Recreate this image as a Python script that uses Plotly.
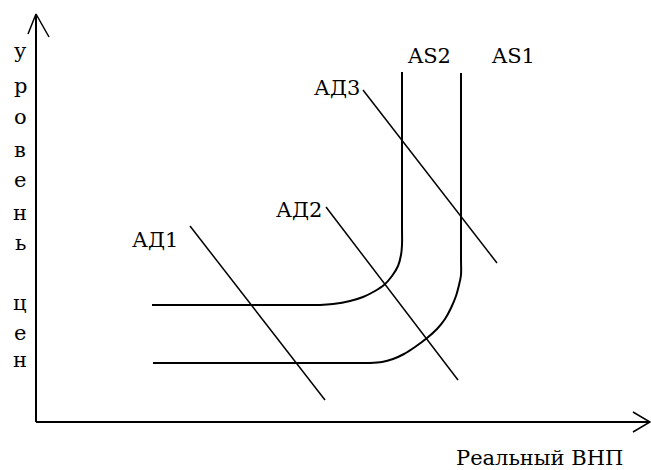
#!/usr/bin/env python3
"""
plot.py - схема AD/AS (совокупный спрос и предложение) в out.html
"""

import plotly.graph_objects as go

# Система координат = пиксели картинки (0..651 x 0..470, y вниз)
WIDTH, HEIGHT = 651, 470

# Оси
Y_AXIS_X = [36, 36]
Y_AXIS_Y = [422, 14]
Y_ARROW_X = [28, 36, 49]
Y_ARROW_Y = [34, 14, 37]
X_AXIS_X = [36, 650]
X_AXIS_Y = [422, 422]
X_ARROW_X = [633, 650, 633]
X_ARROW_Y = [412, 422, 432]

# Кривые предложения
AS2_X = [152, 300, 320, 333, 350, 363, 375, 384, 392, 398, 401, 402, 402, 402]
AS2_Y = [305, 305, 305, 304, 301, 297, 291, 285, 276, 266, 255, 245, 225, 72]
AS1_X = [153, 350, 370, 382, 393, 404, 415, 427, 437, 445, 451, 456, 459, 461, 461, 461]
AS1_Y = [363, 363, 363, 362, 359, 354, 347, 338, 329, 319, 308, 296, 285, 275, 258, 73]

# Кривые спроса (прямые)
AD1_X = [190, 325]
AD1_Y = [226, 400]
AD2_X = [326, 458]
AD2_Y = [207, 380]
AD3_X = [363, 497]
AD3_Y = [90, 263]

# Подписи
CURVE_LABELS = ["АД1", "АД2", "АД3", "AS2", "AS1"]
LABEL_X = [155, 299, 337, 429, 513]
LABEL_Y = [240, 210, 88, 56, 56]
X_TITLE = "Реальный ВНП"
Y_TITLE_LETTERS = ["у", "р", "о", "в", "е", "н", "ь", "", "ц", "е", "н"]
Y_TITLE_POS = [53, 88, 119, 152, 182, 215, 245, 275, 305, 335, 362]

FONT = "DejaVu Serif"
INK = "#000000"


def add_line(fig, xs, ys, width=2.0, shape="linear"):
    """Ajoute un trait noir"""
    fig.add_trace(
        go.Scatter(
            x=xs, y=ys, mode="lines",
            line=dict(color=INK, width=width, shape=shape, smoothing=0.8),
            hoverinfo="skip",
        )
    )


def create_figure():
    fig = go.Figure()

    # оси со стрелками
    add_line(fig, Y_AXIS_X, Y_AXIS_Y)
    add_line(fig, Y_ARROW_X, Y_ARROW_Y, width=1.5)
    add_line(fig, X_AXIS_X, X_AXIS_Y)
    add_line(fig, X_ARROW_X, X_ARROW_Y, width=1.5)

    # AS
    add_line(fig, AS2_X, AS2_Y, shape="spline")
    add_line(fig, AS1_X, AS1_Y, shape="spline")

    # AD
    for xs, ys in [(AD1_X, AD1_Y), (AD2_X, AD2_Y), (AD3_X, AD3_Y)]:
        add_line(fig, xs, ys, width=1.5)

    annotations = []
    for txt, x, y in zip(CURVE_LABELS, LABEL_X, LABEL_Y):
        annotations.append(dict(x=x, y=y, text=txt, showarrow=False,
                                xanchor="center", yanchor="middle"))
    for letter, y in zip(Y_TITLE_LETTERS, Y_TITLE_POS):
        if letter:
            annotations.append(dict(x=20, y=y - 2, text=letter, showarrow=False,
                                    xanchor="center", yanchor="middle"))
    annotations.append(dict(x=539, y=458, text=X_TITLE, showarrow=False,
                            xanchor="center", yanchor="middle"))

    fig.update_layout(
        width=WIDTH, height=HEIGHT,
        margin=dict(l=0, r=0, t=0, b=0),
        paper_bgcolor="white", plot_bgcolor="white",
        showlegend=False,
        font=dict(family=FONT, size=21, color=INK),
        annotations=annotations,
        xaxis=dict(range=[0, WIDTH], visible=False, fixedrange=True),
        yaxis=dict(range=[HEIGHT, 0], visible=False, fixedrange=True),
    )
    return fig


def main():
    fig = create_figure()
    # убираем отступ body, чтобы картинка легла в окно 651x470
    fig.write_html(
        "out.html",
        config={"displayModeBar": False},
        post_script="document.body.style.margin='0';",
    )


if __name__ == "__main__":
    main()
